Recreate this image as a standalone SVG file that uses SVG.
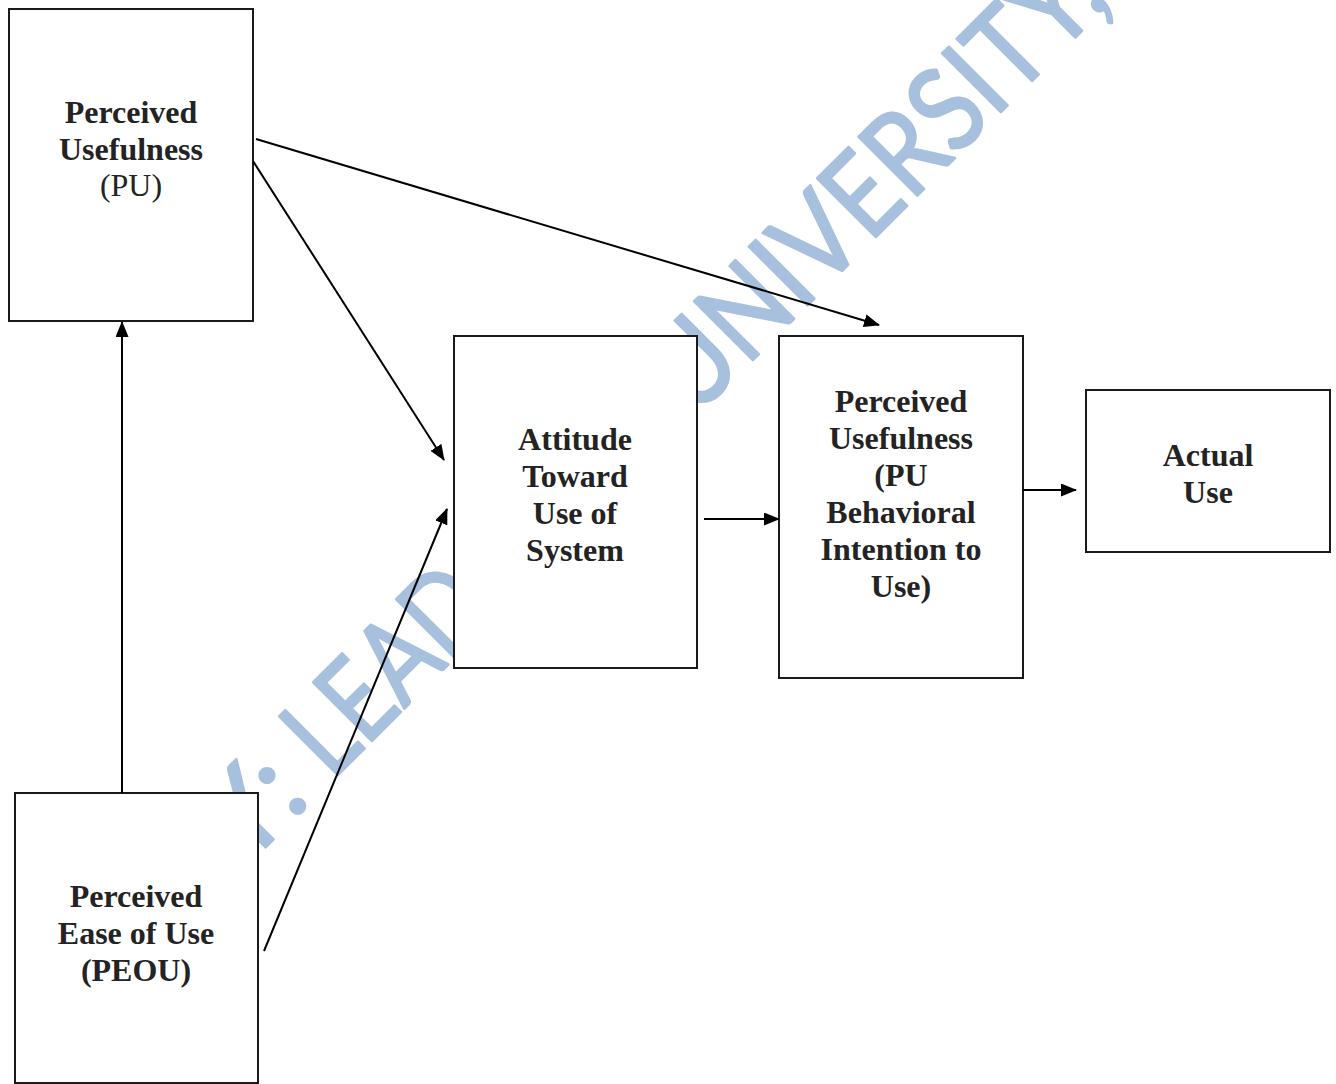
<svg xmlns="http://www.w3.org/2000/svg" width="1336" height="1084" viewBox="0 0 1336 1084">
  <style>
    .box { fill: #ffffff; stroke: #1a1a1a; stroke-width: 2; }
    .lbl { font-family: "Liberation Serif", "Times New Roman", serif; font-size: 32px; font-weight: bold; fill: #232323; text-anchor: middle; }
    .reg { font-weight: normal; }
    .wm { font-family: Lato, "Open Sans", sans-serif; font-size: 116px; font-weight: normal; fill: #A7C0DE; stroke: #A7C0DE; stroke-width: 2.5; stroke-linejoin: round; }
    .conn { stroke: #000000; stroke-width: 2; fill: none; marker-end: url(#arrow); }
  </style>
  <defs>
    <marker id="arrow" markerUnits="userSpaceOnUse" markerWidth="16" markerHeight="13" viewBox="0 0 16 13" refX="15" refY="6.5" orient="auto">
      <path d="M0,0 L16,6.5 L0,13 z" fill="#000000"/>
    </marker>
  </defs>
  <rect x="0" y="0" width="1336" height="1084" fill="#ffffff"/>

  <g id="watermark" transform="rotate(-45)">
    <text class="wm" x="-345" y="787" text-anchor="end">Y:</text>
    <text class="wm" x="-318" y="787" textLength="237" lengthAdjust="spacingAndGlyphs">LEAD</text>
    <text class="wm" x="194" y="787" textLength="591" lengthAdjust="spacingAndGlyphs">UNIVERSITY,</text>
  </g>

  <g id="node-pu">
    <rect class="box" x="9" y="9" width="244" height="312"/>
    <text class="lbl" x="131" y="123">Perceived</text>
    <text class="lbl" x="131" y="160">Usefulness</text>
    <text class="lbl reg" x="131" y="196">(PU)</text>
  </g>

  <g id="node-attitude">
    <rect class="box" x="454" y="336" width="243" height="332"/>
    <text class="lbl" x="575" y="450">Attitude</text>
    <text class="lbl" x="575" y="487">Toward</text>
    <text class="lbl" x="575" y="524">Use of</text>
    <text class="lbl" x="575" y="561">System</text>
  </g>

  <g id="node-bi">
    <rect class="box" x="779" y="336" width="244" height="342"/>
    <text class="lbl" x="901" y="412">Perceived</text>
    <text class="lbl" x="901" y="449">Usefulness</text>
    <text class="lbl" x="901" y="486">(PU</text>
    <text class="lbl" x="901" y="523">Behavioral</text>
    <text class="lbl" x="901" y="560">Intention to</text>
    <text class="lbl" x="901" y="597">Use)</text>
  </g>

  <g id="node-actual">
    <rect class="box" x="1086" y="390" width="244" height="162"/>
    <text class="lbl" x="1208" y="466">Actual</text>
    <text class="lbl" x="1208" y="503">Use</text>
  </g>

  <g id="node-peou">
    <rect class="box" x="15" y="793" width="243" height="290"/>
    <text class="lbl" x="136" y="907">Perceived</text>
    <text class="lbl" x="136" y="944">Ease of Use</text>
    <text class="lbl" x="136" y="981">(PEOU)</text>
  </g>

  <g id="connectors">
    <line class="conn" x1="256" y1="139" x2="879" y2="325"/>
    <line class="conn" x1="253" y1="161" x2="444" y2="460"/>
    <line class="conn" x1="264" y1="951" x2="447" y2="509"/>
    <line class="conn" x1="122" y1="793" x2="122" y2="322"/>
    <line class="conn" x1="704" y1="519" x2="779" y2="519"/>
    <line class="conn" x1="1023" y1="490" x2="1076" y2="490"/>
  </g>
</svg>
